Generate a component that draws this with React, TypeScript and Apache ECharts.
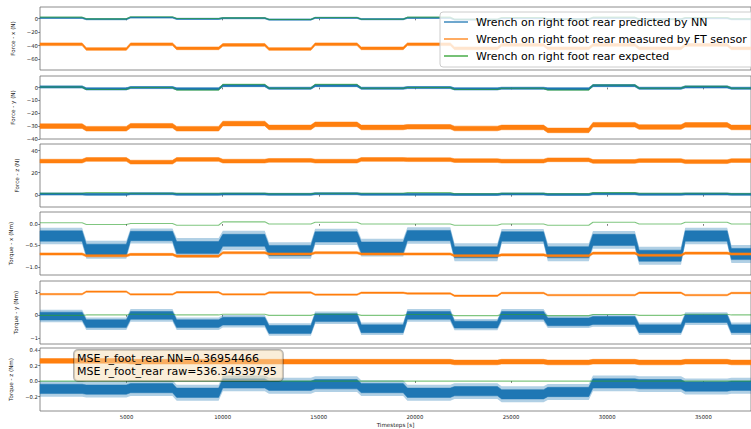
import React, { useEffect, useRef } from 'react';
import * as echarts from 'echarts';

const FONT = 'DejaVu Sans';
const BLUE = '#1f77b4';
const ORANGE = '#ff7f0e';
const GREEN = '#2ca02c';

const NAME_NN = 'Wrench on right foot rear predicted by NN';
const NAME_FT = 'Wrench on right foot rear measured by FT sensor';
const NAME_EX = 'Wrench on right foot rear expected';

// Gait phase boundaries in timesteps; each value array below holds one level per phase.
const phaseEdges = [500, 2800, 5100, 7500, 9900, 12300, 14700, 17100, 19500, 21950, 24400, 26800, 29150, 31550, 33950, 36350, 37480];
const xTicks = [5000, 10000, 15000, 20000, 25000, 30000, 35000];

// Force - x (N)
const fxPredicted = [1, -1, 1.5, -0.5, 0.5, -1.5, 1, -1, 1, -1.5, 0.5, -1, 1, -1, 0.5, -1];
const fxMeasured = [-38, -45, -38, -44, -39, -45, -38, -44, -38, -44, -39, -44, -39, -44, -39, -44];
const fxExpected = [2, -0.5, 2.5, 0, 1, -1.5, 1.5, -1, 2, -1, 1.5, -1, 2, -1, 1.5, -0.5];
const fxTicks = [-60, -40, -20, 0];

// Force - y (N)
const fyPredicted = [0.5, -1, 0, -1, 1.5, -0.5, 1.5, -0.5, 0, -1, -0.5, -1, 1.5, -0.5, 0.5, -0.5];
const fyMeasured = [-30, -32, -29.7, -32, -28, -31, -28.6, -31, -30.5, -31.8, -31, -33.3, -28.9, -30.7, -29, -31];
const fyExpected = [0.5, -1.5, 0, -2, 2.5, -0.5, 2.5, -0.5, 0, -1.5, -0.5, -2, 2, -0.5, 1, -0.5];
const fyTicks = [-40, -30, -20, -10, 0];

// Force - z (N)
const fzPredicted = [0.8, 0.5, 1, 0.5, 0.8, 0.5, 1, 0.5, 0.5, 0.3, 0.8, 0.3, 1, 0.5, 0.8, 0.5];
const fzMeasured = [30.5, 32, 29.6, 32, 30.5, 31.2, 30.5, 32, 31.8, 31, 30.5, 31.7, 30.2, 31, 30, 31];
const fzExpected = [1.5, 2, 1.5, 1.5, 1.5, 1, 1.5, 1.5, 2, 1, 1.5, 1, 2, 1.5, 1.5, 1];
const fzTicks = [0, 20, 40];

// Torque - x (Nm)
const txPredicted = [-0.28, -0.6, -0.28, -0.55, -0.38, -0.62, -0.3, -0.55, -0.27, -0.66, -0.29, -0.66, -0.37, -0.74, -0.28, -0.7];
const txPredictedSpread = [0.12, 0.13, 0.11, 0.14, 0.14, 0.12, 0.12, 0.13, 0.12, 0.13, 0.11, 0.13, 0.13, 0.13, 0.12, 0.13];
const txMeasured = [-0.7, -0.74, -0.71, -0.75, -0.67, -0.7, -0.67, -0.7, -0.7, -0.74, -0.72, -0.74, -0.68, -0.73, -0.68, -0.7];
const txExpected = [0.03, -0.01, 0.01, -0.03, 0.05, 0, 0.04, 0, 0, -0.03, 0, -0.03, 0.04, 0, 0.04, 0];
const txTicks = [-1, -0.5, 0];

// Torque - y (Nm)
const tyPredicted = [-0.05, -0.38, -0.02, -0.38, -0.27, -0.63, -0.12, -0.6, -0.02, -0.42, -0.02, -0.3, -0.24, -0.6, -0.16, -0.6];
const tyPredictedSpread = [0.17, 0.17, 0.17, 0.17, 0.17, 0.17, 0.17, 0.17, 0.17, 0.15, 0.17, 0.17, 0.17, 0.17, 0.17, 0.17];
const tyMeasured = [0.9, 1.01, 0.89, 0.98, 0.89, 0.97, 0.88, 0.96, 0.93, 0.83, 0.95, 0.86, 0.86, 0.96, 0.86, 0.95];
const tyExpected = [-0.02, 0, 0.03, 0, 0.03, -0.02, 0.03, -0.02, 0.02, -0.03, 0.02, -0.03, 0.02, -0.02, 0.03, 0];
const tyTicks = [-1, 0, 1];

// Torque - z (Nm)
const tzPredicted = [-0.1, -0.11, -0.09, -0.15, -0.03, -0.06, -0.04, -0.09, -0.15, -0.13, -0.17, -0.14, -0.03, -0.04, -0.07, -0.06];
const tzMeasured = [0.26, 0.26, 0.25, 0.25, 0.25, 0.25, 0.25, 0.25, 0.25, 0.24, 0.25, 0.24, 0.25, 0.24, 0.25, 0.24];
const tzExpected = [0, 0, 0, 0, 0, 0, 0, 0, 0, 0, 0, 0, 0, 0, 0, 0];
const tzTicks = [-0.2, 0, 0.2, 0.4];

const mseLines = ['MSE r_foot_rear NN=0.36954466', 'MSE r_foot_rear raw=536.34539795'];

const fill = (n: number) => phaseEdges.slice(1).map(() => n);

// spike: how far the sparse outliers reach beyond the dense core, as a multiple of the core spread
const panels = [
  { label: 'Force - x (N)', min: -76, max: 17, ticks: fxTicks, dec: 0, gap: 19,
    nn: fxPredicted, nnSpread: fill(0.9), nnSpike: 1.3, ft: fxMeasured, ftSpread: fill(2.0), ex: fxExpected },
  { label: 'Force - y (N)', min: -40, max: 9, ticks: fyTicks, dec: 0, gap: 19,
    nn: fyPredicted, nnSpread: fill(0.8), nnSpike: 1.3, ft: fyMeasured, ftSpread: fill(1.8), ex: fyExpected },
  { label: 'Force - z (N)', min: -11, max: 46, ticks: fzTicks, dec: 0, gap: 14,
    nn: fzPredicted, nnSpread: fill(0.9), nnSpike: 1.3, ft: fzMeasured, ftSpread: fill(1.7), ex: fzExpected },
  { label: 'Torque - x (Nm)', min: -1.19, max: 0.28, ticks: txTicks, dec: 1, gap: 21,
    nn: txPredicted, nnSpread: txPredictedSpread, nnSpike: 1.6, ft: txMeasured, ftSpread: fill(0.025), ex: txExpected },
  { label: 'Torque - y (Nm)', min: -1.26, max: 1.47, ticks: tyTicks, dec: 0, gap: 16,
    nn: tyPredicted, nnSpread: tyPredictedSpread, nnSpike: 1.6, ft: tyMeasured, ftSpread: fill(0.03), ex: tyExpected },
  { label: 'Torque - z (Nm)', min: -0.385, max: 0.426, ticks: tzTicks, dec: 1, gap: 21,
    nn: tzPredicted, nnSpread: fill(0.06), nnSpike: 1.7, ft: tzMeasured, ftSpread: fill(0.03), ex: tzExpected },
];

const GRID_TOPS = [7, 76, 144, 212, 281, 348];
const GRID_H = 63;
const RAMP = 110;

// Piecewise-constant levels with short linear ramps between phases.
function phasePoints(levels: number[], value: (v: number, i: number) => number[]): number[][] {
  const pts: number[][] = [];
  const last = levels.length - 1;
  levels.forEach((v, i) => {
    const a = phaseEdges[i] + (i > 0 ? RAMP : 0);
    const b = phaseEdges[i + 1] - (i < last ? RAMP : 0);
    pts.push([a, ...value(v, i)], [b, ...value(v, i)]);
  });
  return pts;
}

// A noisy signal drawn as the filled envelope between its lower and upper bounds,
// with a fainter outer envelope for the sparse outliers.
function bandSeries(k: number, name: string, color: string, levels: number[], spread: number[], spike: number) {
  const pts = phasePoints(levels, (v, i) => [v - spread[i], v + spread[i], v - spread[i] * spike, v + spread[i] * spike]);
  const outline = (api: any, lo: number, hi: number) => {
    const upper = pts.map((p) => api.coord([p[0], p[hi]]));
    const lower = pts.map((p) => api.coord([p[0], p[lo]])).reverse();
    return upper.concat(lower);
  };
  return {
    type: 'custom', name, xAxisIndex: k, yAxisIndex: k, silent: true,
    itemStyle: { color },
    encode: { x: 0, y: [1, 2] },
    data: pts,
    renderItem: (params: any, api: any) => {
      if (params.dataIndex !== 0) return null;
      return {
        type: 'group',
        children: [
          {
            type: 'polygon', silent: true,
            shape: { points: outline(api, 3, 4) },
            style: { fill: color, opacity: spike > 1 ? 0.35 : 0 },
          },
          {
            type: 'polygon', silent: true,
            shape: { points: outline(api, 1, 2) },
            style: { fill: color, stroke: color, lineWidth: 0.5 },
          },
        ],
      };
    },
  };
}

const fmt = (dec: number) => (v: number) => (dec ? v.toFixed(dec) : String(Math.round(v))).replace('-', '\u2212');

export default function App() {
  const ref = useRef<HTMLDivElement>(null);

  useEffect(() => {
    document.body.style.margin = '0';
    if (!ref.current) return;
    const chart = echarts.init(ref.current, undefined, { renderer: 'svg' });

    const grid = GRID_TOPS.map((top) => ({
      left: 40, width: 722, top, height: GRID_H,
      show: true, borderColor: '#6f6f6f', borderWidth: 0.8, backgroundColor: 'transparent',
    }));

    const xAxis = panels.map((_p, k) => ({
      type: 'value', gridIndex: k, min: 500, max: 37480,
      axisLine: { show: false }, splitLine: { show: false },
      axisTick: { show: true, customValues: xTicks, length: 1.8, lineStyle: { color: '#444', width: 0.7 } },
      axisLabel: {
        show: k === panels.length - 1, customValues: xTicks, formatter: (v: number) => String(v),
        fontSize: 5.3, fontFamily: FONT, color: '#222', margin: 3,
      },
      name: k === panels.length - 1 ? 'Timesteps [s]' : '',
      nameLocation: 'middle', nameGap: 11,
      nameTextStyle: { fontSize: 5.6, fontFamily: FONT, color: '#222' },
    }));

    const yAxis = panels.map((p, k) => ({
      type: 'value', gridIndex: k, min: p.min, max: p.max,
      axisLine: { show: false }, splitLine: { show: false },
      axisTick: { show: true, customValues: p.ticks, length: 1.8, lineStyle: { color: '#444', width: 0.7 } },
      axisLabel: { customValues: p.ticks, formatter: fmt(p.dec), fontSize: 5.3, fontFamily: FONT, color: '#222', margin: 2 },
      name: p.label, nameLocation: 'middle', nameGap: p.gap,
      nameTextStyle: { fontSize: 5.6, fontFamily: FONT, color: '#222' },
    }));

    const series: any[] = [];
    panels.forEach((p, k) => {
      series.push(bandSeries(k, NAME_NN, BLUE, p.nn, p.nnSpread, p.nnSpike));
      series.push(bandSeries(k, NAME_FT, ORANGE, p.ft, p.ftSpread, 1));
      series.push({
        type: 'line', name: NAME_EX, xAxisIndex: k, yAxisIndex: k,
        data: phasePoints(p.ex, (v) => [v]), symbol: 'none', silent: true,
        lineStyle: { width: 1.1, color: GREEN, opacity: 0.6 }, itemStyle: { color: GREEN },
        emphasis: { disabled: true },
      });
    });

    chart.setOption({
      animation: false,
      textStyle: { fontFamily: FONT },
      grid, xAxis, yAxis, series,
      legend: {
        orient: 'vertical', left: 440, top: 12, selectedMode: false,
        data: [
          { name: NAME_NN, itemStyle: { color: BLUE } },
          { name: NAME_FT, itemStyle: { color: ORANGE } },
          { name: NAME_EX, itemStyle: { color: GREEN } },
        ],
        icon: 'rect', itemWidth: 24, itemHeight: 1.3, itemGap: 3,
        textStyle: { fontSize: 11, lineHeight: 14, fontFamily: FONT, color: '#000', padding: [0, 0, 0, 3] },
        backgroundColor: 'rgba(255,255,255,0.8)', borderColor: '#cccccc', borderWidth: 1, borderRadius: 3,
        padding: [3, 60, 4, 4],
      },
      graphic: [
        {
          type: 'text', left: 73, top: 349, z: 100,
          style: {
            text: mseLines.join('\n'), font: `11px "${FONT}"`, lineHeight: 13, fill: '#000',
            backgroundColor: 'rgba(245,222,179,0.5)', borderColor: 'rgba(0,0,0,0.3)', borderWidth: 1,
            borderRadius: 4, padding: [2, 6, 3, 3],
          },
        },
      ],
    });

    return () => chart.dispose();
  }, []);

  return <div ref={ref} style={{ width: 751, height: 429 }} />;
}
